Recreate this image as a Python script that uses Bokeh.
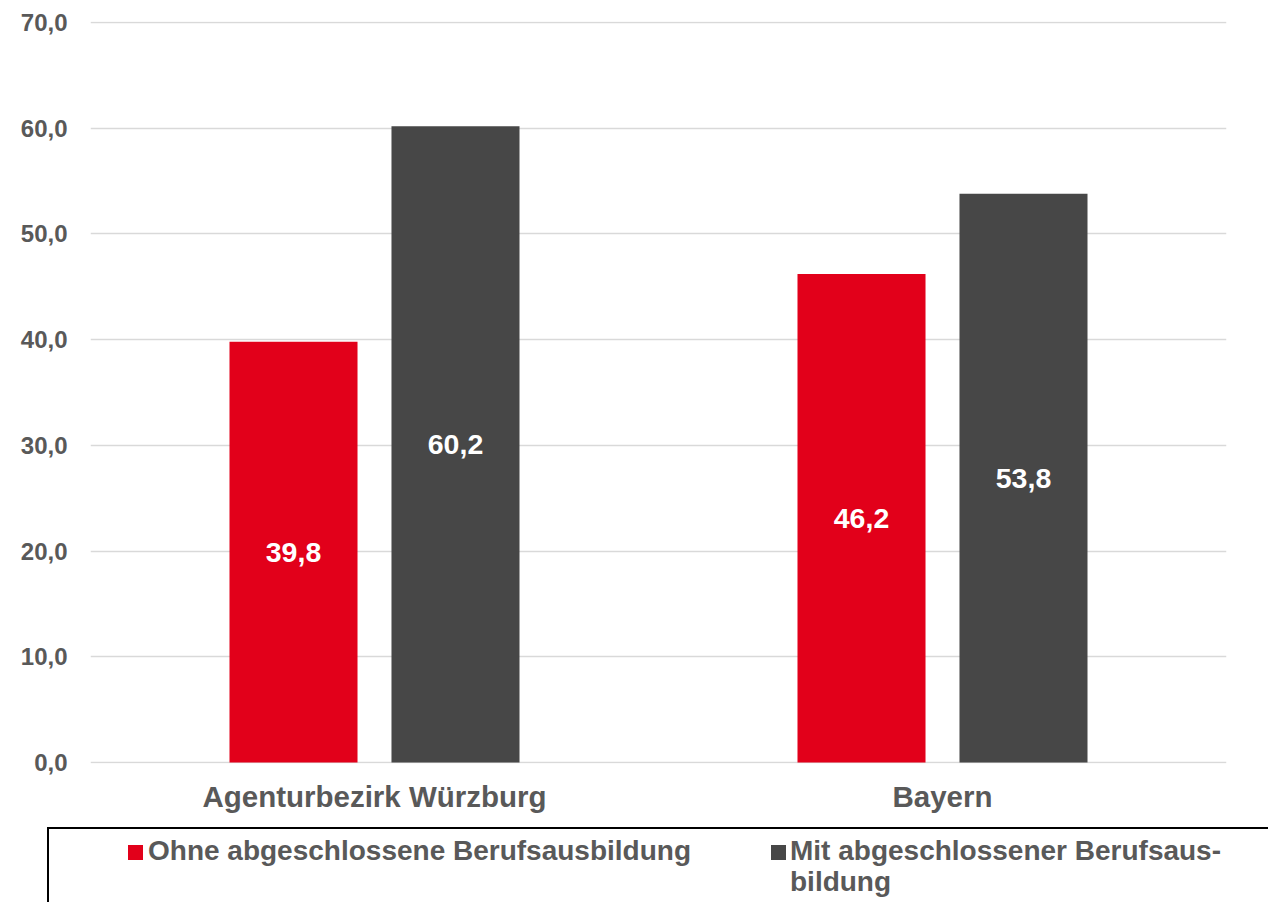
from bokeh.plotting import figure
from bokeh.models import FactorRange, Range1d, FixedTicker, ColumnDataSource, Div
from bokeh.transform import dodge
from bokeh.layouts import column
from bokeh.core.properties import value
from bokeh.embed import file_html
from bokeh.resources import INLINE

categories = ["Agenturbezirk Würzburg", "Bayern"]
series_names = ["Ohne abgeschlossene Berufsausbildung", "Mit abgeschlossener Berufsausbildung"]
legend_lines = [["Ohne abgeschlossene Berufsausbildung"], ["Mit abgeschlossener Berufsaus-", "bildung"]]
ohne = [39.8, 46.2]
mit = [60.2, 53.8]
colors = ["#E2001A", "#474747"]
y_ticks = [0, 10, 20, 30, 40, 50, 60, 70]
y_tick_labels = {t: f"{t:.1f}".replace(".", ",") for t in y_ticks}

FONT = "Liberation Sans"
GRAY = "#595959"

src = ColumnDataSource(dict(
    cat=categories,
    ohne=ohne, mit=mit,
    ohne_mid=[v / 2 for v in ohne], mit_mid=[v / 2 for v in mit],
    ohne_lbl=[f"{v:.1f}".replace(".", ",") for v in ohne],
    mit_lbl=[f"{v:.1f}".replace(".", ",") for v in mit],
))

p = figure(x_range=FactorRange(*categories), y_range=Range1d(-0.1, 70.1),
           frame_width=1136, frame_height=742,
           min_border_left=90, min_border_right=42, min_border_top=21, min_border_bottom=63,
           output_backend="svg", toolbar_location=None)
p.outline_line_color = None
p.background_fill_color = "white"

off = 0.1426
bw = 0.2254
p.vbar(x=dodge("cat", -off, range=p.x_range), top="ohne", width=bw, source=src,
       fill_color=colors[0], line_color=None)
p.vbar(x=dodge("cat", off, range=p.x_range), top="mit", width=bw, source=src,
       fill_color=colors[1], line_color=None)

for xo, ycol, tcol in [(-off, "ohne_mid", "ohne_lbl"), (off, "mit_mid", "mit_lbl")]:
    p.text(x=dodge("cat", xo, range=p.x_range), y=ycol, text=tcol, source=src,
           text_align="center", text_baseline="middle", text_color="white",
           text_font=value(FONT), text_font_style="bold", text_font_size="28.5px")

p.yaxis.ticker = FixedTicker(ticks=y_ticks)
p.yaxis.major_label_overrides = y_tick_labels
p.yaxis.axis_line_color = None
p.yaxis.major_tick_line_color = None
p.yaxis.minor_tick_line_color = None
p.yaxis.major_tick_out = 0
p.yaxis.major_tick_in = 0
p.yaxis.major_label_standoff = 23
p.yaxis.major_label_text_font = FONT
p.yaxis.major_label_text_font_style = "bold"
p.yaxis.major_label_text_font_size = "24px"
p.yaxis.major_label_text_color = GRAY

p.xaxis.axis_line_color = None
p.xaxis.major_tick_line_color = None
p.xaxis.minor_tick_line_color = None
p.xaxis.major_tick_out = 0
p.xaxis.major_tick_in = 0
p.xaxis.major_label_standoff = 16
p.xaxis.major_label_text_font = FONT
p.xaxis.major_label_text_font_style = "bold"
p.xaxis.major_label_text_font_size = "29.5px"
p.xaxis.major_label_text_color = GRAY

p.xgrid.grid_line_color = None
p.ygrid.grid_line_color = "#d9d9d9"
p.ygrid.grid_line_width = 1.5

# legend panel (HTML)
sq_left = [128, 771]
txt_left = [148, 790]
items = ""
for i in range(2):
    items += (f'<div style="position:absolute;left:{sq_left[i]}px;top:19px;width:15px;height:15px;'
              f'background:{colors[i]};"></div>')
    items += (f'<div style="position:absolute;left:{txt_left[i]}px;top:9px;white-space:nowrap;'
              f'font-family:\'{FONT}\';font-weight:bold;font-size:28px;line-height:31px;color:{GRAY};">'
              + "<br>".join(legend_lines[i]) + '</div>')
html = ('<div style="position:relative;width:1268px;height:76px;overflow:hidden;">'
        '<div style="position:absolute;left:47px;top:1px;width:1400px;height:200px;'
        'border-left:2px solid black;border-top:2px solid black;"></div>'
        + items + '</div>')
lg = Div(text=html, width=1268, height=76, margin=(0, 0, 0, 0))

layout = column(p, lg, spacing=0)
open("out.html", "w").write(file_html(layout, INLINE))
